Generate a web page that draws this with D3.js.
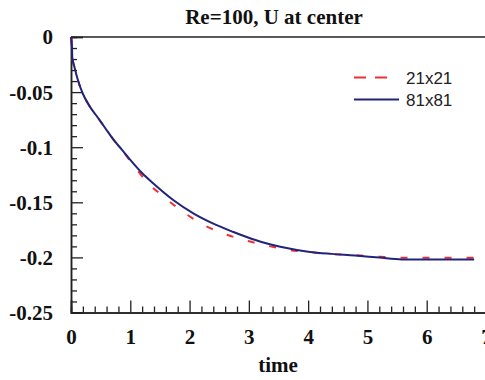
<!DOCTYPE html>
<html>
<head>
<meta charset="utf-8">
<script src="https://cdn.jsdelivr.net/npm/d3@7"></script>
<style>
  html, body { margin: 0; padding: 0; background: #fff; overflow: hidden; }
  svg { display: block; }
  .serif { font-family: "Liberation Serif", "Times New Roman", Times, "DejaVu Serif", serif; font-weight: bold; font-size: 21px; }
  .sans { font-family: "Liberation Sans", Arial, Helvetica, sans-serif; font-size: 17px; }
</style>
</head>
<body>
<svg id="chart" width="485" height="380"></svg>
<script>
// ---- data ----
const time81 = [0, 0.017, 0.022, 0.06, 0.12, 0.2, 0.31, 0.43, 0.57, 0.71, 0.85, 1.0, 1.19, 1.39, 1.73, 2.07, 2.4, 2.74, 2.86, 3.2, 3.53, 4.03, 4.4, 4.79, 5.2, 5.58, 6.0, 6.4, 6.8];
const u81    = [0, -0.0094, -0.0185, -0.0276, -0.0397, -0.0515, -0.0625, -0.0715, -0.0821, -0.0927, -0.1018, -0.1115, -0.123, -0.133, -0.1482, -0.1603, -0.1694, -0.177, -0.1795, -0.1858, -0.1904, -0.195, -0.1968, -0.1983, -0.2002, -0.2018, -0.2018, -0.2018, -0.2018];
const time21 = [0, 0.02, 0.06, 0.12, 0.2, 0.31, 0.43, 0.57, 0.71, 0.85, 1.0, 1.28, 1.56, 1.87, 2.19, 2.53, 2.9, 3.28, 3.65, 4.03, 4.4, 4.79, 5.2, 5.6, 6.0, 6.4, 6.8];
const u21    = [0, -0.018, -0.0276, -0.0397, -0.0515, -0.0625, -0.0715, -0.0821, -0.0927, -0.102, -0.1125, -0.1315, -0.1448, -0.1579, -0.1691, -0.1775, -0.1839, -0.189, -0.193, -0.1953, -0.197, -0.198, -0.1993, -0.2003, -0.2003, -0.2003, -0.2003];
const seriesNames = ["21x21", "81x81"];
const xTicks = [0, 1, 2, 3, 4, 5, 6, 7];
const xTickLabels = ["0", "1", "2", "3", "4", "5", "6", "7"];
const yTicks = [0, -0.05, -0.1, -0.15, -0.2, -0.25];
const yTickLabels = ["0", "-0.05", "-0.1", "-0.15", "-0.2", "-0.25"];
const titleText = "Re=100, U at center";
const xLabelText = "time";

(function () {
  const svg = d3.select("#chart");
  const pLeft = 71, pRight = 486, pTop = 37, pBottom = 312.5;
  const x = d3.scaleLinear().domain([0, 7]).range([pLeft, pRight]);
  const y = d3.scaleLinear().domain([-0.25, 0]).range([pBottom, pTop]);
  const axisColor = "#222";

  const xMinor = d3.range(0, 7.001, 0.2).filter(v => Math.abs(v - Math.round(v)) > 1e-6);
  const yMinor = d3.range(0, -0.2501, -0.01).filter(v => Math.abs(v * 20 - Math.round(v * 20)) > 1e-6);

  const gxMinor = svg.append("g").attr("transform", `translate(0,${pBottom})`)
    .call(d3.axisBottom(x).tickValues(xMinor).tickSize(-6).tickFormat(""));
  const gyMinor = svg.append("g").attr("transform", `translate(${pLeft},0)`)
    .call(d3.axisLeft(y).tickValues(yMinor).tickSize(-6).tickFormat(""));

  const gx = svg.append("g").attr("transform", `translate(0,${pBottom})`)
    .call(d3.axisBottom(x).tickValues(xTicks).tickSize(-12).tickPadding(18)
      .tickFormat((d, i) => xTickLabels[i]));
  const gy = svg.append("g").attr("transform", `translate(${pLeft},0)`)
    .call(d3.axisLeft(y).tickValues(yTicks).tickSize(-12).tickPadding(18)
      .tickFormat((d, i) => yTickLabels[i]));

  [gxMinor, gyMinor, gx, gy].forEach(g => {
    g.attr("font-family", null).attr("font-size", null);
    g.selectAll(".domain").attr("stroke", axisColor).attr("stroke-width", 1.5);
    g.selectAll(".tick line").attr("stroke", axisColor).attr("stroke-width", 1.3);
    g.selectAll("text").attr("fill", "#111").attr("class", "serif");
  });
  gx.selectAll(".tick text").attr("dy", "0.66em");
  gy.selectAll(".tick text").attr("dy", "0.33em");

  svg.append("line").attr("x1", pLeft).attr("x2", pRight).attr("y1", pTop).attr("y2", pTop)
    .attr("stroke", axisColor).attr("stroke-width", 1.5);

  const line = d3.line().x(d => x(d[0])).y(d => y(d[1])).curve(d3.curveMonotoneX);
  const d21 = time21.map((t, i) => [t, u21[i]]);
  const d81 = time81.map((t, i) => [t, u81[i]]);

  svg.append("path").datum(d21).attr("d", line).attr("fill", "none")
    .attr("stroke", "#ee3035").attr("stroke-width", 2).attr("stroke-dasharray", "7,15");
  svg.append("path").datum(d81).attr("d", line).attr("fill", "none")
    .attr("stroke", "#22237a").attr("stroke-width", 2);

  svg.append("text").attr("class", "serif").attr("x", 274).attr("y", 24).attr("text-anchor", "middle")
    .attr("fill", "#111").text(titleText);
  svg.append("text").attr("class", "serif").attr("x", 278).attr("y", 372).attr("text-anchor", "middle")
    .attr("fill", "#111").text(xLabelText);

  const leg = svg.append("g");
  leg.append("line").attr("x1", 354).attr("x2", 388).attr("y1", 77.5).attr("y2", 77.5)
    .attr("stroke", "#ee3035").attr("stroke-width", 2).attr("stroke-dasharray", "12,9");
  leg.append("text").attr("class", "sans").attr("x", 406).attr("y", 83.5).text(seriesNames[0])
    .attr("fill", "#222");
  leg.append("line").attr("x1", 354).attr("x2", 399).attr("y1", 99.5).attr("y2", 99.5)
    .attr("stroke", "#22237a").attr("stroke-width", 2);
  leg.append("text").attr("class", "sans").attr("x", 406).attr("y", 106).text(seriesNames[1])
    .attr("fill", "#222");
})();
</script>
</body>
</html>
